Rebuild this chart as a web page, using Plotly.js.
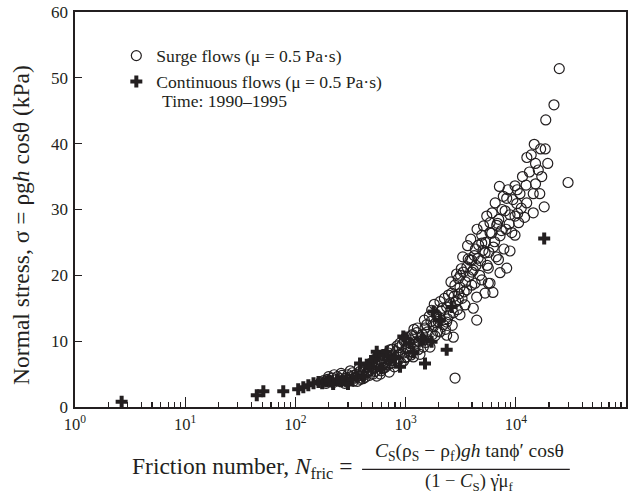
<!DOCTYPE html>
<html>
<head>
<meta charset="utf-8">
<script src="https://cdn.plot.ly/plotly-3.0.1.min.js"></script>
<style>html,body{margin:0;padding:0;background:#fff;}#chart{width:637px;height:495px;}</style>
</head>
<body>
<div id="chart"></div>
<script>
// Surge flows: friction number and normal stress (kPa)
const surgeN = [170,180,190,195,205,215,220,230,240,250,255,265,270,285,295,300,310,320,330,335,350,360,370,385,390,400,415,430,444,455,470,480,492,505,528,547,
  560,586,600,628,640,660,697,710,721,740,773,790,820,859,870,889,910,953,970,990,1023,
  1050,1096,1100,1150,1175,1200,1217,1261,1300,1351,1380,1449,1500,1553,1600,1665,1700,1724,1784,1850,1900,1950,
  2051,2051,2051,2150,2200,2359,2359,2359,2450,2500,2620,2711,2711,2800,2850,3009,3009,3116,3116,3200,3342,3459,3400,
  3584,3700,3840,3980,3980,4110,4115,4270,4300,4418,4550,4700,4909,4909,4909,5040,5260,5260,5500,5630,5630,5836,5836,5836,
  6043,6200,6255,6420,6712,6830,6960,7100,7193,7193,7500,7800,8150,8268,8268,8860,8860,9200,9836,9836,9836,
  10200,10400,10600,10910,12400,12560,12600,13300,14400,14400,14700,15100,15100,16500,16800,18500,18100,19500,
  18700,22200,24800,29800,2810,4420,
  200,225,260,280,315,340,365,380,410,425,460,500,520,540,575,590,615,650,680,700,730,760,800,840,880,930,960,1000,1010,1070,
  1120,1130,1190,1240,1280,1320,1420,1480,1520,1580,1640,1750,1820,1880,1980,2100,2250,2300,2400,2550,2580,2650,2750,2900,2950,
  3050,3150,3250,3300,3500,3600,3650,3750,3900,4000,4200,4350,4450,4600,4800,5100,5300,5450,5700,6100,6500,6650,7000,7400,7700,
  8000,8500,8700,9400,10300,11200,11500,12000,13800,16000,17200];
const surgeS = [3.8,4.0,3.6,4.2,3.9,4.4,3.7,4.1,4.6,3.9,4.3,4.8,4.0,4.4,3.8,4.9,4.2,4.6,5.2,3.9,4.4,5.0,4.7,5.4,4.2,4.9,5.6,4.5,5.2,6.1,4.8,5.6,6.3,5.0,5.4,4.7,
  6.2,7.1,5.5,5.9,6.8,7.4,6.4,5.3,8.7,7.0,7.9,6.1,8.4,7.1,9.0,9.7,6.7,8.2,10.0,7.5,7.6,
  9.0,10.2,8.4,11.0,7.6,9.5,9.1,11.3,8.7,8.0,10.5,9.1,12.0,12.5,10.2,9.1,13.0,14.7,12.2,10.8,14.0,11.5,
  16.0,13.5,11.4,15.0,12.5,15.2,12.9,10.9,17.0,14.0,17.3,14.3,10.6,18.5,16.0,16.3,19.5,18.2,14.0,21.0,20.5,15.5,17.5,
  17.8,22.5,22.3,22.3,18.5,20.8,15.0,18.8,24.0,16.7,22.6,20.0,26.1,24.9,19.3,23.8,23.4,17.3,21.5,21.1,18.8,28.0,26.5,18.8,
  26.4,17.4,24.3,25.1,27.6,27.9,22.4,33.5,26.0,20.4,30.0,24.0,27.0,31.7,21.1,29.2,23.7,26.5,33.6,26.1,29.0,
  30.9,29.4,28.0,32.4,33.7,31.0,37.9,35.7,32.4,29.5,39.9,37.0,33.9,32.4,39.2,39.2,30.4,37.0,
  43.6,45.9,51.4,34.1,4.4,13.2,
  4.6,4.9,5.1,3.6,5.5,4.8,3.9,5.9,4.3,6.0,5.5,6.6,5.9,6.8,6.5,5.0,7.0,6.0,7.8,8.2,6.6,8.8,7.2,9.3,8.0,9.5,7.0,8.8,10.6,9.8,
  7.9,10.8,11.8,9.9,12.0,10.0,11.0,13.2,9.8,11.4,13.8,11.0,15.6,12.8,13.0,14.6,16.5,11.8,13.4,15.8,19.0,12.4,16.8,20.2,14.8,
  17.2,20.0,16.5,22.8,19.0,21.3,24.5,19.8,25.5,20.5,23.0,21.5,27.0,24.6,22.2,27.5,25.0,29.0,23.5,29.5,31.0,22.8,28.5,26.8,32.0,
  29.8,33.0,27.8,31.5,33.0,30.2,35.0,28.8,38.3,36.0,35.0];
// Continuous flows
const contN = [2.65,44.6,51.2,77.6,106,118,131,146,162,175,190,205,220,240,260,290,300,330,360,386,413,444,475,513,528,547,606,628,674,721,800,890,953,988,1090,1180,1400,1449,1500,1720,1790,2050,2360,2620,18100];
const contS = [0.8,1.8,2.4,2.4,2.7,3.0,3.3,3.6,3.8,3.6,3.9,4.0,3.5,4.1,3.9,4.3,3.5,4.2,4.6,6.6,4.6,6.4,6.1,7.1,7.6,8.4,5.9,7.9,8.4,7.1,7.5,6.1,10.7,10.4,9.7,8.3,10.2,10.2,6.6,9.9,14.5,13.2,8.7,15.2,25.6];
const xTickVals = [1,10,100,1000,10000,100000];
const xTickText = ['10<sup>0</sup>','10<sup>1</sup>','10<sup>2</sup>','10<sup>3</sup>','10<sup>4</sup>','10<sup>5</sup>'];

const ink = '#231f20';
const serif = 'Liberation Serif';

const traces = [
  {x: surgeN, y: surgeS, type: 'scatter', mode: 'markers', name: 'Surge flows (μ = 0.5 Pa·s)',
   marker: {symbol: 'circle-open', size: 10, color: ink, line: {width: 1.2, color: ink}}},
  {x: contN, y: contS, type: 'scatter', mode: 'markers', name: 'Continuous flows (μ = 0.5 Pa·s)',
   marker: {symbol: 'cross', size: 10, color: ink, line: {width: 0}}}
];

const layout = {
  width: 637, height: 495,
  margin: {l: 75, r: 11, t: 12, b: 88},
  paper_bgcolor: '#fff', plot_bgcolor: '#fff',
  font: {family: serif, color: ink, size: 17},
  showlegend: true,
  legend: {x: 0.075, y: 0.935, xanchor: 'left', yanchor: 'top', bgcolor: 'rgba(0,0,0,0)',
           font: {family: serif, size: 17.6, color: ink}, itemwidth: 30, tracegroupgap: 0},
  xaxis: {type: 'log', range: [0, 5], tickmode: 'array', tickvals: xTickVals, ticktext: xTickText,
          ticks: 'inside', ticklen: 10, tickwidth: 1.3, tickcolor: ink, ticklabelstandoff: 2,
          showline: true, linecolor: ink, linewidth: 1.6, mirror: true,
          showgrid: false, zeroline: false,
          tickfont: {family: serif, size: 16.5, color: ink},
          minor: {ticks: 'inside', ticklen: 5, tickwidth: 1.2, tickcolor: ink, showgrid: false, dtick: 'D1'}},
  yaxis: {range: [0, 60], dtick: 10, ticks: 'inside', ticklen: 7, tickwidth: 1.3, tickcolor: ink, ticklabelstandoff: 2,
          showline: true, linecolor: ink, linewidth: 1.6, mirror: true,
          showgrid: false, zeroline: false,
          tickfont: {family: serif, size: 17, color: ink}},
  annotations: [
    {xref: 'paper', yref: 'paper', x: -0.098, y: 0.461, xanchor: 'center', yanchor: 'middle', showarrow: false, textangle: -90,
     text: 'Normal stress, σ = ρg<i>h</i> cosθ (kPa)', font: {family: serif, size: 23.5, color: ink}},
    {xref: 'paper', yref: 'paper', x: 0.155, y: 0.775, xanchor: 'left', yanchor: 'middle', showarrow: false,
     text: 'Time: 1990–1995', font: {family: serif, size: 17.6, color: ink}},
    {xref: 'paper', yref: 'paper', x: 0.508, y: -0.155, xanchor: 'right', yanchor: 'middle', showarrow: false,
     text: 'Friction number, <i>N</i><sub>fric</sub> =', font: {family: serif, size: 23.5, color: ink}},
    {xref: 'paper', yref: 'paper', x: 0.716, y: -0.113, xanchor: 'center', yanchor: 'middle', showarrow: false,
     text: '<i>C</i><sub>S</sub>(ρ<sub>S</sub> − ρ<sub>f</sub>)<i>gh</i> tanϕ′ cosθ', font: {family: serif, size: 19.5, color: ink}},
    {xref: 'paper', yref: 'paper', x: 0.716, y: -0.19, xanchor: 'center', yanchor: 'middle', showarrow: false,
     text: '(1 − <i>C</i><sub>S</sub>) γ̇μ<sub>f</sub>', font: {family: serif, size: 18.5, color: ink}}
  ],
  shapes: [
    {type: 'line', xref: 'paper', yref: 'paper', x0: 0.521, x1: 0.898, y0: -0.158, y1: -0.158, line: {color: ink, width: 1.2}}
  ]
};

Plotly.newPlot('chart', traces, layout, {displayModeBar: false, staticPlot: true});
</script>
</body>
</html>
